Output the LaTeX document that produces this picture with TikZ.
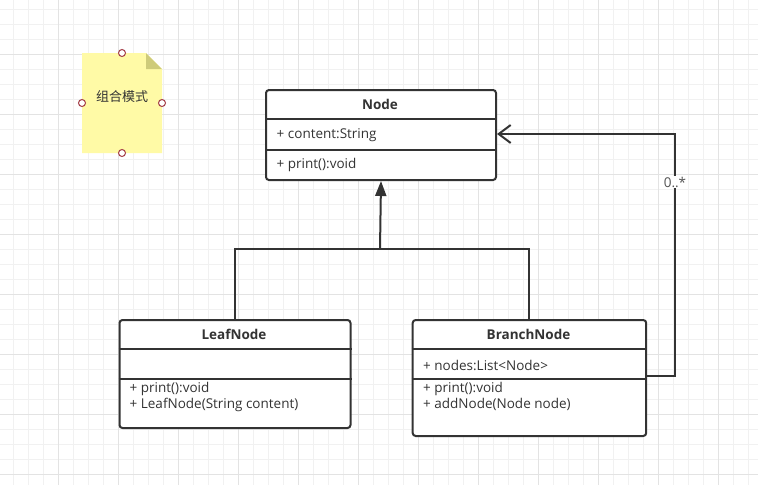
\documentclass[tikz,border=0pt]{standalone}
\usepackage{fontspec}
\setmainfont{Open Sans}
\newfontfamily\cjk{Noto Sans CJK SC}
\usetikzlibrary{arrows.meta}
\definecolor{gridminor}{HTML}{F1F1F1}
\definecolor{gridmajor}{HTML}{E3E3E3}
\definecolor{ink}{HTML}{333333}
\definecolor{notefill}{HTML}{FFFAA6}
\definecolor{notefold}{HTML}{CECB7A}
\definecolor{handle}{HTML}{A33B45}
\tikzset{
  gminor/.style={draw=gridminor, line width=1pt},
  gmajor/.style={draw=gridmajor, line width=1pt},
  ln/.style={draw=ink, line width=2pt},
  cls/.style={draw=ink, line width=2pt, rounded corners=3pt, fill=white, inner sep=0pt, anchor=north west},
  txt/.style={text=ink, font=\fontsize{13.5}{15}\selectfont, inner sep=0pt, anchor=west},
  ttl/.style={text=ink, font=\fontsize{13.5}{15}\selectfont\bfseries, inner sep=0pt},
  hnd/.style={circle, draw=handle, fill=white, line width=1pt, minimum size=7pt, inner sep=0pt},
  lbl/.style={fill=white, text=ink!85, font=\fontsize{13.5}{15}\selectfont, inner sep=1pt}
}
\begin{document}
\begin{tikzpicture}[x=1pt,y=-1pt]
\useasboundingbox (0,0) rectangle (758,485);
\fill[white] (0,0) rectangle (758,485);
% grid
\foreach \k in {0,...,49} { \draw[gminor] (13.3+15*\k,0) -- (13.3+15*\k,485); }
\foreach \k in {0,...,31} { \draw[gminor] (0,9.3+15*\k) -- (758,9.3+15*\k); }
\foreach \k in {0,...,12} { \draw[gmajor] (58.3+60*\k,0) -- (58.3+60*\k,485); }
\foreach \k in {0,...,7} { \draw[gmajor] (0,54.3+60*\k) -- (758,54.3+60*\k); }
% note
\fill[notefill] (82,53) -- (146,53) -- (162,69) -- (162,153) -- (82,153) -- cycle;
\fill[notefold] (146,53) -- (162,69) -- (146,69) -- cycle;
\node[text=ink, font=\cjk\fontsize{13}{15}\selectfont, inner sep=0pt] (note) at (122,97) {组合模式};
\node[hnd] (h1) at (122,53) {};
\node[hnd] (h2) at (82,103) {};
\node[hnd] (h3) at (162,103) {};
\node[hnd] (h4) at (122,153) {};
% Node class
\node[cls, minimum width=230pt, minimum height=90pt] (node) at (265,89) {};
\draw[ln] (node.west |- 0,119) -- (node.east |- 0,119);
\draw[ln] (node.west |- 0,150) -- (node.east |- 0,150);
\node[ttl] (nodet) at (380,104.5) {Node};
\node[txt] (nodea) at (276.5,135) {+ content:String};
\node[txt] (nodem) at (276.5,165) {+ print():void};
% LeafNode class
\node[cls, minimum width=231pt, minimum height=108pt] (leaf) at (118.5,319) {};
\draw[ln] (leaf.west |- 0,349) -- (leaf.east |- 0,349);
\draw[ln] (leaf.west |- 0,379) -- (leaf.east |- 0,379);
\node[ttl] (leaft) at (234,334.5) {LeafNode};
\node[txt] (leafm1) at (129.5,388.5) {+ print():void};
\node[txt] (leafm2) at (129.5,404.5) {+ LeafNode(String content)};
% BranchNode class
\node[cls, minimum width=233.5pt, minimum height=116pt] (branch) at (411.7,319) {};
\draw[ln] (branch.west |- 0,349) -- (branch.east |- 0,349);
\draw[ln] (branch.west |- 0,379) -- (branch.east |- 0,379);
\node[ttl] (brancht) at (528.5,334.5) {BranchNode};
\node[txt] (brancha) at (423,365) {+ nodes:List<Node>};
\node[txt] (branchm1) at (423,388.5) {+ print():void};
\node[txt] (branchm2) at (423,404.5) {+ addNode(Node node)};
% inheritance
\coordinate (hub) at (380,249);
\draw[ln] (leaf.north) |- (hub) -| (branch.north);
\draw[ln, -{Triangle[length=15pt,width=11pt]}] (hub) -- (node.south);
% aggregation
\coordinate (b1) at (675,376);
\coordinate (b2) at (675,134);
\draw[ln, -{Straight Barb[length=12pt,width=18pt]}] (branch.east |- b1) -- (b1) -- (b2) -- (node.east |- b2);
\node[lbl] (mult) at (675,182) {0..*};
\end{tikzpicture}
\end{document}
